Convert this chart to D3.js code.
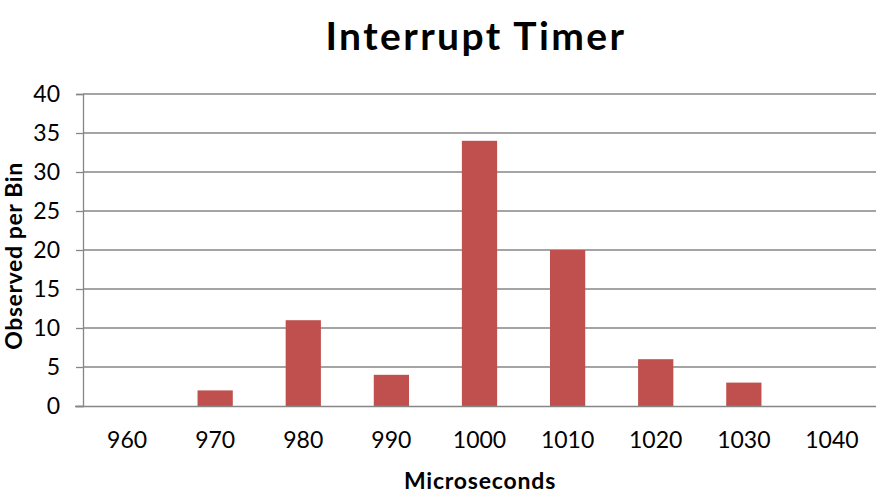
<!DOCTYPE html>
<html>
<head>
<meta charset="utf-8">
<script src="https://cdn.jsdelivr.net/npm/d3@7"></script>
<style>
  body { margin: 0; background: #fff; }
  text { font-family: Lato, "Open Sans", sans-serif; fill: #000; }
</style>
</head>
<body>
<div id="chart"></div>
<script>
// data
const bins = ["960", "970", "980", "990", "1000", "1010", "1020", "1030", "1040"]
const counts = [0, 2, 11, 4, 34, 20, 6, 3, 0]
const yTicks = [0, 5, 10, 15, 20, 25, 30, 35, 40]

const W = 880, H = 496
const margin = {left: 83, right: 4, top: 94, bottom: 90}
const width = W - margin.left - margin.right
const height = H - margin.top - margin.bottom

const svg = d3.select("#chart").append("svg")
    .attr("width", W)
    .attr("height", H)

const g = svg.append("g")
    .attr("transform", "translate(" + margin.left + "," + margin.top + ")")

const x = d3.scaleBand()
    .domain(bins)
    .range([0, width])
    .paddingInner(0.6)
    .paddingOuter(0.3)

const y = d3.scaleLinear()
    .domain([0, 40])
    .range([height, 0])

// gridlines
g.append("g").selectAll("line")
    .data(yTicks.filter(d => d > 0))
    .join("line")
    .attr("x1", 0).attr("x2", width)
    .attr("y1", d => y(d)).attr("y2", d => y(d))
    .attr("stroke", "#868686")
    .attr("stroke-width", 1.3)

// y axis
const yAxis = d3.axisLeft(y).tickValues(yTicks).tickSize(7).tickPadding(16)
const yg = g.append("g").call(yAxis)
yg.select(".domain").attr("stroke", "#868686").attr("stroke-width", 1.3)
yg.selectAll(".tick line").attr("stroke", "#868686").attr("stroke-width", 1.3)
yg.selectAll(".tick text").style("font-size", "23px").attr("fill", "#000")
    .style("font-family", "Lato, sans-serif")

// bars
g.append("g").selectAll("rect")
    .data(counts)
    .join("rect")
    .attr("x", (d, i) => x(bins[i]))
    .attr("width", x.bandwidth())
    .attr("y", d => y(d))
    .attr("height", d => height - y(d))
    .attr("fill", "#C0504D")

// x axis
const xAxis = d3.axisBottom(x).tickSize(0).tickPadding(26)
const xg = g.append("g")
    .attr("transform", "translate(0," + height + ")")
    .call(xAxis)
xg.select(".domain").attr("stroke", "#868686").attr("stroke-width", 1.3)
    .attr("d", "M-8,0.5H" + width)
xg.selectAll(".tick text").style("font-size", "23px").attr("fill", "#000")
    .style("font-family", "Lato, sans-serif")

// titles
svg.append("text")
    .attr("x", 476).attr("y", 50)
    .attr("text-anchor", "middle")
    .style("font-size", "39px").style("font-weight", "bold")
    .style("letter-spacing", "2.4px")
    .text("Interrupt Timer")

svg.append("text")
    .attr("x", 480).attr("y", 489)
    .attr("text-anchor", "middle")
    .style("font-size", "23px").style("font-weight", "bold")
    .style("letter-spacing", "0.8px")
    .text("Microseconds")

svg.append("text")
    .attr("transform", "translate(22,256) rotate(-90)")
    .attr("text-anchor", "middle")
    .style("font-size", "23px").style("font-weight", "bold")
    .style("letter-spacing", "0.6px")
    .text("Observed per Bin")
</script>
</body>
</html>
